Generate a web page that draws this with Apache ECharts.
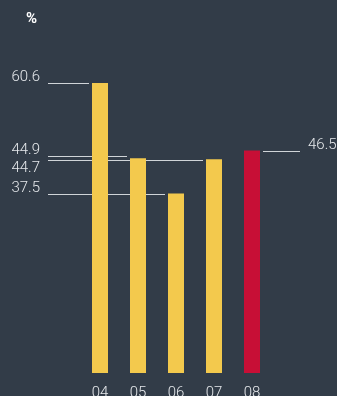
<!DOCTYPE html>
<html><head><meta charset="utf-8">
<script src="https://cdn.jsdelivr.net/npm/echarts@6/dist/echarts.min.js"></script>
<style>html,body{margin:0;padding:0;background:#323c48;}#c{width:337px;height:396px;}</style>
</head><body><div id="c"></div>
<script>
const categories = ['04', '05', '06', '07', '08'];
const values = [60.6, 44.9, 37.5, 44.7, 46.5];
const valueLabels = ['60.6', '44.9', '37.5', '44.7', '46.5'];
const labelSide = ['above', 'above', 'above', 'below', 'above'];
const lineNudge = [0, -2, 0, 1, 0];
const highlightIndex = 4;

const YELLOW = '#f3c94d', RED = '#c70f36', LINE = '#d0d4d8', TEXT = '#e6e9ec';
const chart = echarts.init(document.getElementById('c'));
chart.setOption({
  backgroundColor: '#323c48',
  animation: false,
  grid: { left: 81, right: 66, top: 62, bottom: 23, containLabel: false, outerBoundsMode: 'none' },
  graphic: [{ type: 'text', left: 26, top: 12, style: { text: '%', fill: '#ffffff', font: 'bold 15px Roboto' } }],
  xAxis: {
    type: 'category', data: categories,
    axisLine: { show: false }, axisTick: { show: false },
    axisLabel: { color: TEXT, fontFamily: 'Roboto', fontWeight: 300, fontSize: 15, margin: 13 }
  },
  yAxis: { type: 'value', min: 0, max: 65, show: false, splitLine: { show: false } },
  series: [
    {
      type: 'bar', barWidth: 16,
      data: values.map((v, i) => ({ value: v, itemStyle: { color: i === highlightIndex ? RED : YELLOW } }))
    },
    {
      type: 'custom', silent: true,
      data: values.map((v, i) => [i, v]),
      renderItem: function (params, api) {
        const i = api.value(0), v = api.value(1);
        const pt = api.coord([i, v]);
        const y = Math.round(pt[1]) + lineNudge[i] + 0.5;
        const half = 8;
        let x1, x2, tx, align;
        if (i === highlightIndex) {
          x1 = pt[0] + half + 3; x2 = x1 + 37; tx = x2 + 8; align = 'left';
        } else {
          x1 = 48; x2 = pt[0] - half - 3; tx = 40; align = 'right';
        }
        const ty = labelSide[i] === 'below' ? y + 8 : y - 6;
        return {
          type: 'group',
          children: [
            { type: 'line', shape: { x1: x1, y1: y, x2: x2, y2: y }, style: { stroke: LINE, lineWidth: 1 } },
            { type: 'text', x: tx, y: ty, style: { text: valueLabels[i], fill: TEXT, font: '300 15px Roboto', align: align, verticalAlign: 'middle' } }
          ]
        };
      }
    }
  ]
});
</script></body></html>
